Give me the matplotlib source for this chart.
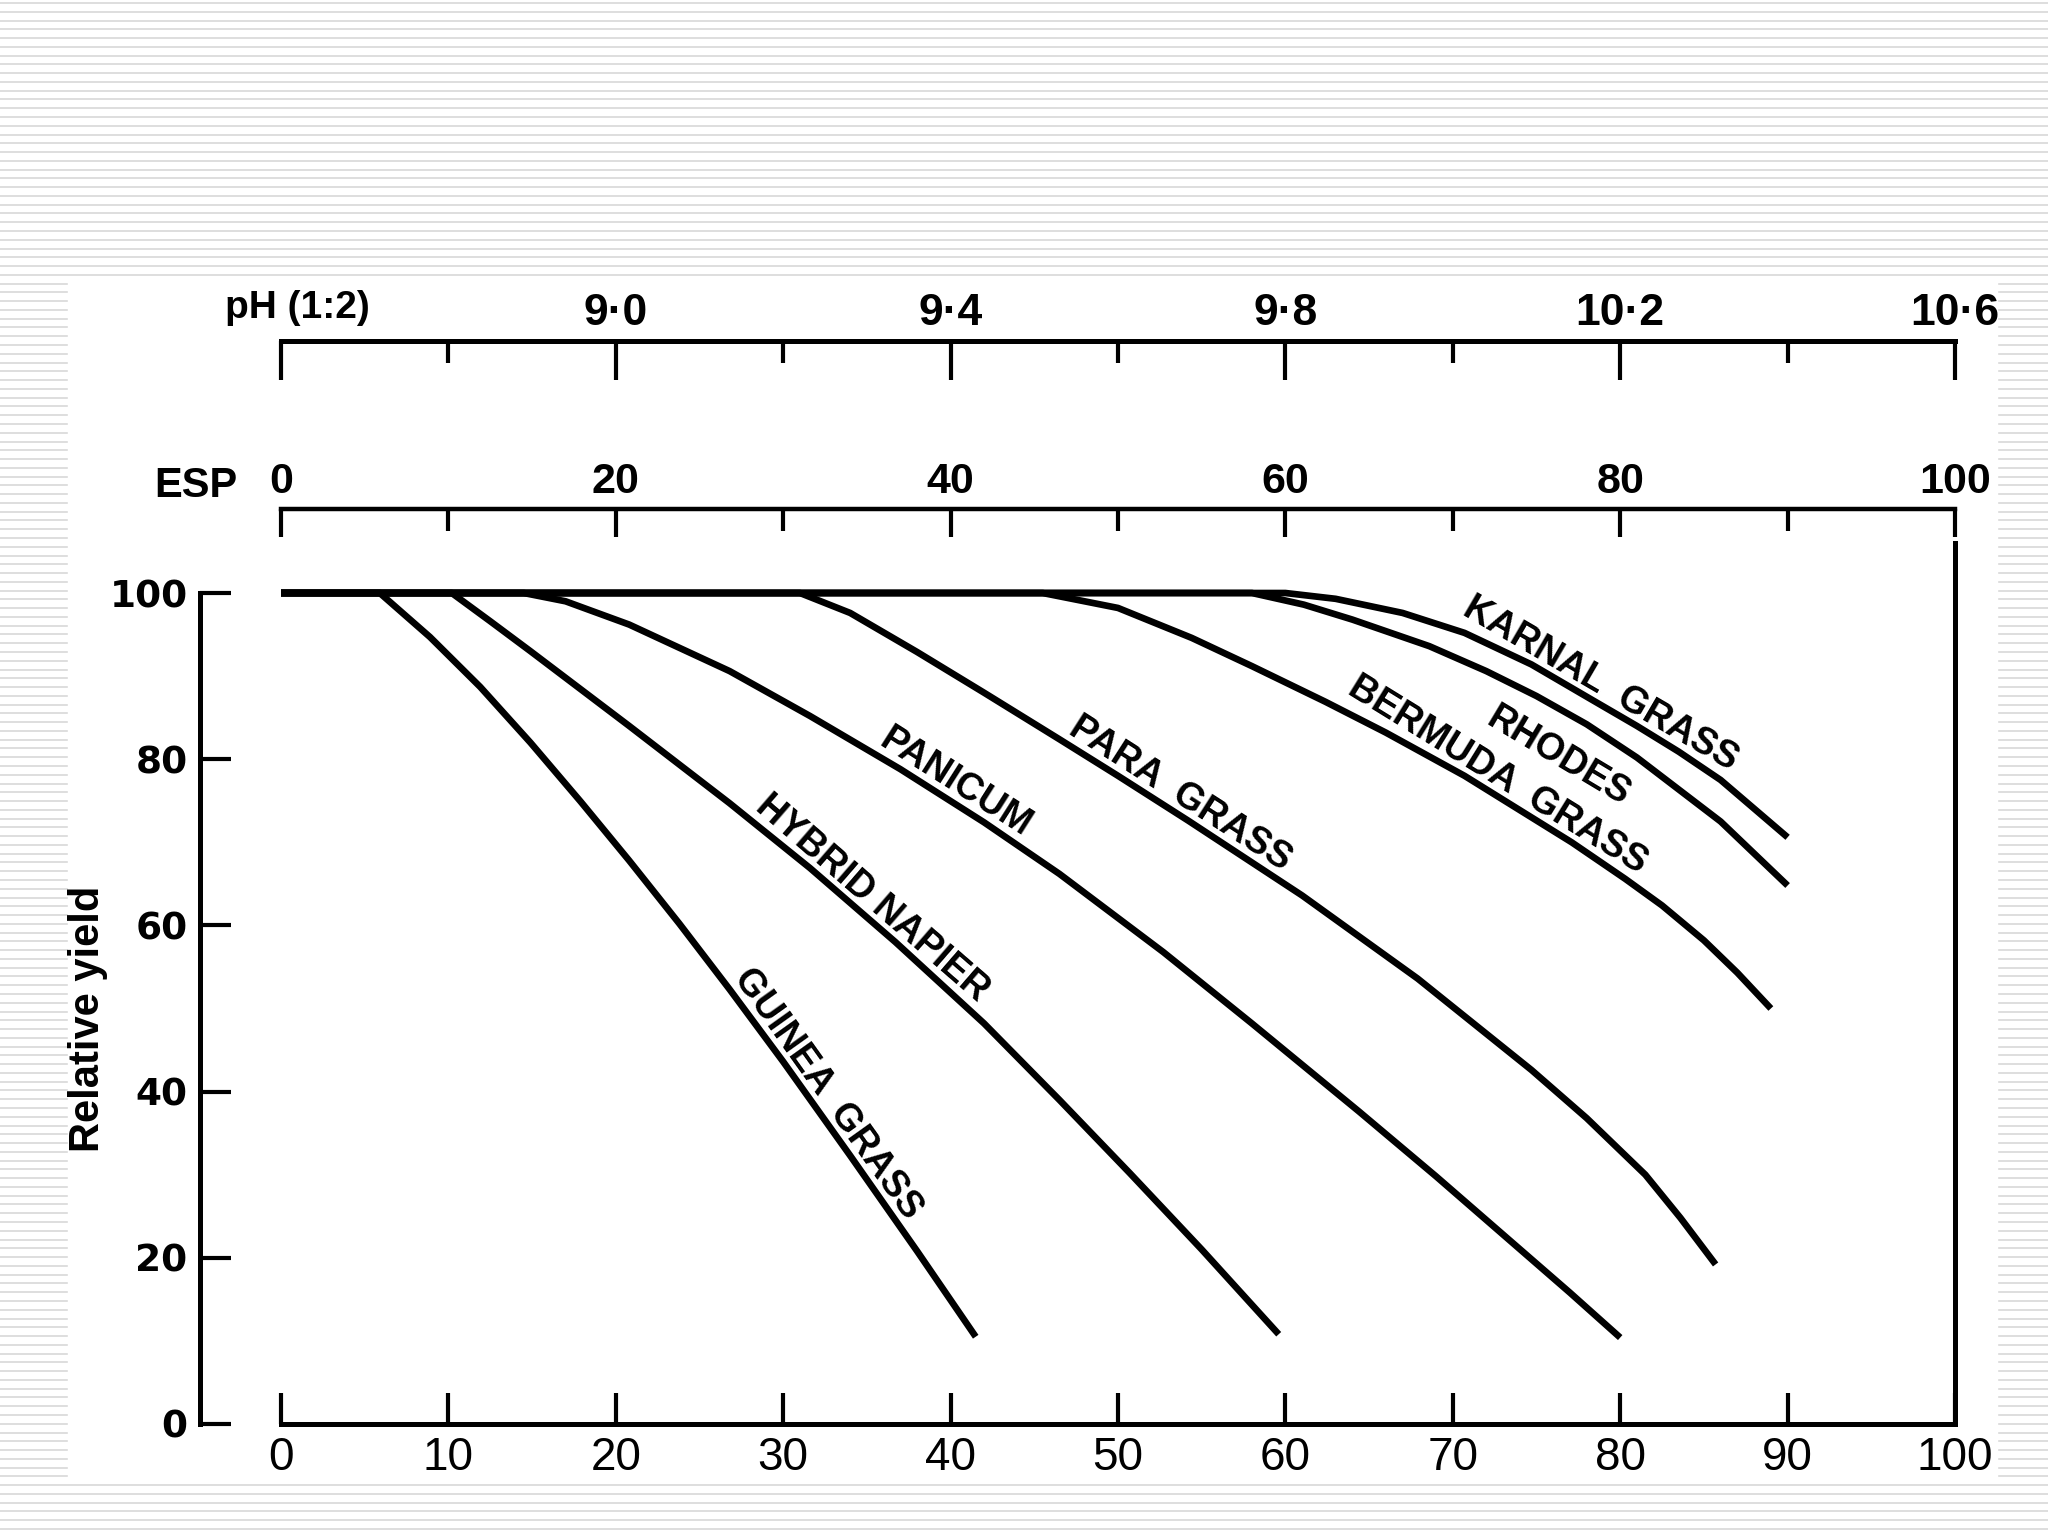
import numpy as np
import matplotlib
matplotlib.use("Agg")
import matplotlib.pyplot as plt
from matplotlib.patches import Rectangle

# Relative yield (%) against ESP
guinea_x = [0, 5.9, 8.9, 11.9, 14.9, 17.9, 20.8, 23.8, 26.8, 30.0, 34.0, 38.0, 41.5]
guinea_y = [100, 100, 94.7, 88.7, 82.0, 74.9, 67.8, 60.2, 52.3, 43.6, 32.3, 20.8, 10.5]
napier_x = [0, 10.2, 12.5, 14.9, 20.8, 26.8, 31.6, 36.7, 42, 46.5, 50.7, 55, 59.6]
napier_y = [100, 100, 96.6, 93.0, 84.0, 74.7, 66.9, 58.0, 48.2, 39.0, 30.2, 21.0, 10.8]
panicum_x = [0, 14.5, 17, 20.8, 26.8, 31.6, 37, 42, 46.5, 52.7, 58, 64.4, 69, 73, 77, 80]
panicum_y = [100, 100, 99.0, 96.2, 90.6, 85.2, 78.8, 72.4, 66.2, 56.8, 48.2, 37.6, 29.8, 22.8, 15.8, 10.4]
para_x = [0, 31, 34, 38, 42, 46.5, 50, 54.2, 61, 67.9, 74.7, 78, 81.5, 83.6, 85.7]
para_y = [100, 100, 97.6, 92.9, 88.0, 82.4, 78.0, 72.6, 63.6, 53.6, 42.6, 36.8, 30.0, 24.8, 19.2]
bermuda_x = [0, 45.5, 50, 54.4, 58, 62.4, 66, 70.7, 77.1, 80.3, 82.5, 85, 87, 89]
bermuda_y = [100, 100, 98.2, 94.6, 91.2, 86.9, 83.2, 78.0, 70.0, 65.6, 62.4, 58.2, 54.3, 50.0]
rhodes_x = [0, 58, 61.1, 64, 68.6, 72, 75, 78, 81, 86, 90]
rhodes_y = [100, 100, 98.6, 96.8, 93.6, 90.6, 87.6, 84.2, 80.2, 72.5, 64.8]
karnal_x = [0, 60, 63, 67, 70.7, 74.7, 78.1, 81, 83.5, 86, 90]
karnal_y = [100, 100, 99.3, 97.6, 95.2, 91.4, 87.4, 84.0, 80.9, 77.5, 70.6]

# ESP axis and the matching pH (1:2) scale
esp_ticks = [0, 20, 40, 60, 80, 100]
esp_minor = [10, 30, 50, 70, 90]
ph_ticks = [8.6, 9.0, 9.4, 9.8, 10.2, 10.6]
ph_labels = ["", "9·0", "9·4", "9·8", "10·2", "10·6"]
ph_minor = [8.8, 9.2, 9.6, 10.0, 10.4]
bottom_ticks = list(range(0, 101, 10))
yield_ticks = [0, 20, 40, 60, 80, 100]


def esp_to_ph(e):
    return 8.6 + 0.02 * np.asarray(e)


def ph_to_esp(p):
    return (np.asarray(p) - 8.6) / 0.02


W, H = 2048, 1536
fig = plt.figure(figsize=(W / 100, H / 100), dpi=100)

# striped slide background with a white panel behind the chart
bg = fig.add_axes([0, 0, 1, 1], zorder=-10)
bg.set_xlim(0, W)
bg.set_ylim(H, 0)
bg.hlines(np.arange(3, H, 8.77), 0, W, color="#d8d8d8", lw=1.2)
bg.add_patch(Rectangle((68, 280), 1929, 1198, color="white", zorder=2))
bg.axis("off")

x0, x1, y0, y1 = 281, 1955, 1424, 593
ax = fig.add_axes([x0 / W, (H - y0) / H, (x1 - x0) / W, (y0 - y1) / H])
ax.set_facecolor("none")
ax.set_xlim(0, 100)
ax.set_ylim(0, 100)

sans = ["Liberation Sans", "DejaVu Sans"]
lw_axis = 3.6
for s in ["top", "right"]:
    ax.spines[s].set_visible(False)
ax.spines["bottom"].set_linewidth(lw_axis)
ax.spines["left"].set_linewidth(lw_axis)
ax.spines["left"].set_position(("data", -4.84))

ax.set_xticks(bottom_ticks, labels=[str(t) for t in bottom_ticks],
              fontsize=33, fontfamily=sans)
ax.set_yticks(yield_ticks, labels=[str(t) for t in yield_ticks],
              fontsize=27, fontweight="bold", fontfamily="DejaVu Sans")
ax.tick_params(axis="x", direction="in", length=22, width=3, pad=9)
ax.tick_params(axis="y", direction="in", length=22, width=3, pad=9)

# right-hand frame line
ax.axvline(100, ymin=0, ymax=1.06, color="black", lw=lw_axis, clip_on=False)

# ESP scale
sec_esp = ax.secondary_xaxis(1.101)
sec_esp.set_xticks(esp_ticks, labels=[str(t) for t in esp_ticks],
                   fontsize=31, fontweight="bold", fontfamily=sans)
sec_esp.set_xticks(esp_minor, minor=True)
sec_esp.spines["top"].set_linewidth(3.2)
sec_esp.tick_params(which="major", direction="in", length=20, width=3, pad=5)
sec_esp.tick_params(which="minor", direction="in", length=16, width=3)

# pH scale
sec_ph = ax.secondary_xaxis(1.303, functions=(esp_to_ph, ph_to_esp))
sec_ph.set_xticks(ph_ticks, labels=ph_labels,
                  fontsize=32, fontweight="bold", fontfamily=sans)
sec_ph.set_xticks(ph_minor, minor=True)
sec_ph.spines["top"].set_linewidth(3.6)
sec_ph.tick_params(which="major", direction="in", length=28, width=3, pad=5)
sec_ph.tick_params(which="minor", direction="in", length=16, width=3)

ax.text(-2.6, 112.9, "ESP", fontsize=30, fontweight="bold", ha="right", va="center",
        fontfamily=sans)
ax.text(1.0, 134.3, "pH (1:2)", fontsize=28, fontweight="bold", ha="center", va="center",
        fontfamily=sans)
ax.text(-11.5, 48.7, "Relative yield", rotation=90, fontsize=30, fontweight="bold",
        ha="center", va="center", fontfamily=sans)

curves = [
    (guinea_x, guinea_y), (napier_x, napier_y), (panicum_x, panicum_y),
    (para_x, para_y), (bermuda_x, bermuda_y), (rhodes_x, rhodes_y), (karnal_x, karnal_y),
]
for xs, ys in curves:
    ax.plot(xs, ys, color="black", lw=4.8, solid_capstyle="butt",
            solid_joinstyle="round", clip_on=False)


def curve_label(xs, ys, xm, text, side=1, gap=6):
    # text centred at xm, following the local slope of the curve
    ym = np.interp(xm, xs, ys)
    pa = ax.transData.transform((xm - 1.5, np.interp(xm - 1.5, xs, ys)))
    pb = ax.transData.transform((xm + 1.5, np.interp(xm + 1.5, xs, ys)))
    ang = np.degrees(np.arctan2(pb[1] - pa[1], pb[0] - pa[0]))
    t = np.radians(ang)
    d = gap * side
    ax.annotate(text, (xm, ym), xytext=(-np.sin(t) * d, np.cos(t) * d),
                textcoords="offset points", rotation=ang, rotation_mode="anchor",
                ha="center", va="baseline" if side > 0 else "top",
                fontsize=27, fontweight="bold", fontfamily=sans)


curve_label(guinea_x, guinea_y, 31.8, "GUINEA  GRASS")
curve_label(napier_x, napier_y, 34.6, "HYBRID NAPIER")
curve_label(panicum_x, panicum_y, 39.7, "PANICUM")
curve_label(para_x, para_y, 53.1, "PARA  GRASS")
curve_label(bermuda_x, bermuda_y, 72.1, "BERMUDA  GRASS")
curve_label(rhodes_x, rhodes_y, 77.6, "RHODES", side=-1, gap=17)
curve_label(karnal_x, karnal_y, 78.3, "KARNAL  GRASS")

fig.savefig("out.png", dpi=100)
